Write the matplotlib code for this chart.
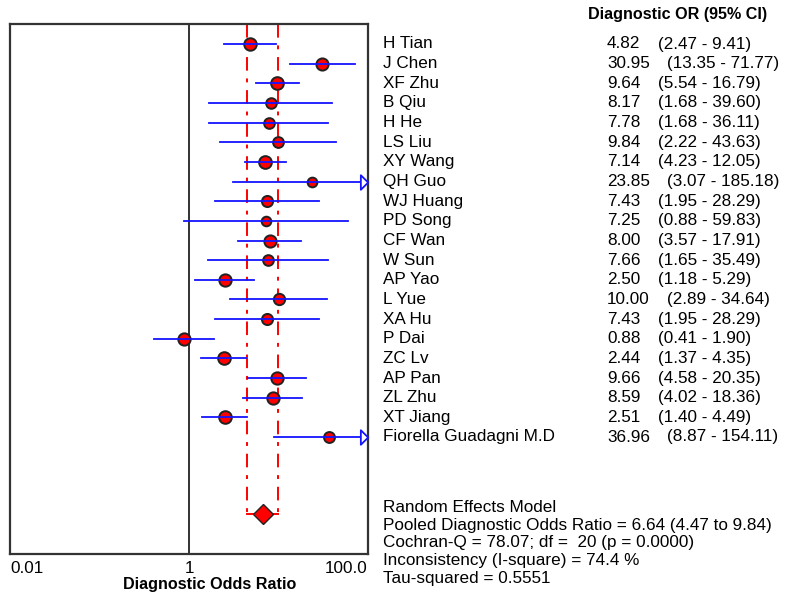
import matplotlib
matplotlib.use("Agg")
import matplotlib.pyplot as plt
import matplotlib.transforms as mtransforms
from matplotlib.path import Path
import numpy as np

plt.rcParams['font.family'] = ['Liberation Sans', 'DejaVu Sans']

# study data
studies = ["H Tian", "J Chen", "XF Zhu", "B Qiu", "H He", "LS Liu", "XY Wang",
           "QH Guo", "WJ Huang", "PD Song", "CF Wan", "W Sun", "AP Yao", "L Yue",
           "XA Hu", "P Dai", "ZC Lv", "AP Pan", "ZL Zhu", "XT Jiang",
           "Fiorella Guadagni M.D"]
dor = [4.82, 30.95, 9.64, 8.17, 7.78, 9.84, 7.14, 23.85, 7.43, 7.25, 8.00,
       7.66, 2.50, 10.00, 7.43, 0.88, 2.44, 9.66, 8.59, 2.51, 36.96]
ci_low = [2.47, 13.35, 5.54, 1.68, 1.68, 2.22, 4.23, 3.07, 1.95, 0.88, 3.57,
          1.65, 1.18, 2.89, 1.95, 0.41, 1.37, 4.58, 4.02, 1.40, 8.87]
ci_high = [9.41, 71.77, 16.79, 39.60, 36.11, 43.63, 12.05, 185.18, 28.29,
           59.83, 17.91, 35.49, 5.29, 34.64, 28.29, 1.90, 4.35, 20.35, 18.36,
           4.49, 154.11]

pooled = 6.64
pooled_low = 4.47
pooled_high = 9.84
tau2 = 0.5551

summary_lines = ["Random Effects Model",
                 "Pooled Diagnostic Odds Ratio = 6.64 (4.47 to 9.84)",
                 "Cochran-Q = 78.07; df =  20 (p = 0.0000)",
                 "Inconsistency (I-square) = 74.4 %",
                 "Tau-squared = 0.5551"]

W, H = 785, 596
FS = 12.3
BLUE = '#1414ff'
fig = plt.figure(figsize=(W / 100, H / 100), dpi=100)
ax = fig.add_axes([10 / W, 1 - 554 / H, 358 / W, 530 / H])

row0, step = 44, 19.65
ax.set_xscale('log')
ax.set_xlim(0.01, 100)
ax.set_ylim((554 - row0) / step, (24 - row0) / step)

n = len(studies)
ys = np.arange(n)
diamond_y = (514 - row0) / step

# random effects weights -> marker size
se = (np.log(ci_high) - np.log(ci_low)) / 3.92
w = 1 / (se ** 2 + tau2)
ms = 9.0 * (w / w[0]) ** 0.28

# pooled estimate bracket
top = ax.get_ylim()[1]
dash = (0, (7, 4, 2, 4))
ax.plot([pooled_low, pooled_low], [top, diamond_y], color='red', lw=1.4, ls=dash)
ax.plot([pooled_high, pooled_high], [top, diamond_y], color='red', lw=1.4, ls=dash)
ax.plot([pooled_low, pooled_high], [diamond_y, diamond_y], color='red', lw=1.4)

ax.axvline(1, color='#222222', lw=1.3)

arrow = Path([(-0.25, 0.5), (0.25, 0), (-0.25, -0.5), (-0.25, 0.5)],
             [Path.MOVETO, Path.LINETO, Path.LINETO, Path.CLOSEPOLY])
arrow_tr = mtransforms.blended_transform_factory(ax.transAxes, ax.transData)
for i in range(n):
    hi = min(ci_high[i], 100)
    ax.plot(dor[i], ys[i], 'o', ms=ms[i], mfc='red', mec='#222222', mew=1.4, zorder=3)
    ax.plot([ci_low[i], hi], [ys[i], ys[i]], color=BLUE, lw=1.3, zorder=4)
    if ci_high[i] > 100:
        ax.plot(0.990, ys[i], marker=arrow, ms=10.5, mfc='white', mec=BLUE, mew=1.3,
                transform=arrow_tr, clip_on=False, zorder=5)

ax.plot(pooled, diamond_y, 'D', ms=10.5, mfc='red', mec='#222222', mew=1.0, zorder=5)

for s in ax.spines.values():
    s.set_color('#333333')
    s.set_linewidth(1.6)
ax.set_yticks([])
ax.set_xticks([0.01, 1, 100])
ax.set_xticklabels(["0.01", "1", "100.0"], fontsize=FS)
ax.minorticks_off()
ax.tick_params(axis='x', length=0, pad=5)
labs = ax.get_xticklabels()
labs[0].set_ha('left')
labs[2].set_ha('right')
ax.set_xlabel("Diagnostic Odds Ratio", fontsize=FS - 0.7, fontweight='bold')
ax.xaxis.label.set_va('center')
ax.xaxis.set_label_coords(200 / 358, -(585 - 554) / 530)

# right hand text columns
tr = mtransforms.blended_transform_factory(fig.transFigure, ax.transData)
fig.text(588 / W, 1 - 14 / H, "Diagnostic OR (95% CI)", fontsize=FS - 0.7,
         fontweight='bold', va='center')
for i in range(n):
    ax.text(383 / W, ys[i], studies[i], transform=tr, fontsize=FS, va='center')
    ax.text(607 / W, ys[i], f"{dor[i]:.2f}", transform=tr, fontsize=FS, va='center')
    cx = 667 if dor[i] >= 10 else 658
    ax.text(cx / W, ys[i], f"({ci_low[i]:.2f} - {ci_high[i]:.2f})", transform=tr,
            fontsize=FS, va='center')

for k, line in enumerate(summary_lines):
    fig.text(383 / W, 1 - (507.5 + 17.7 * k) / H, line, fontsize=FS, va='center')

fig.savefig("out.png", dpi=100)
